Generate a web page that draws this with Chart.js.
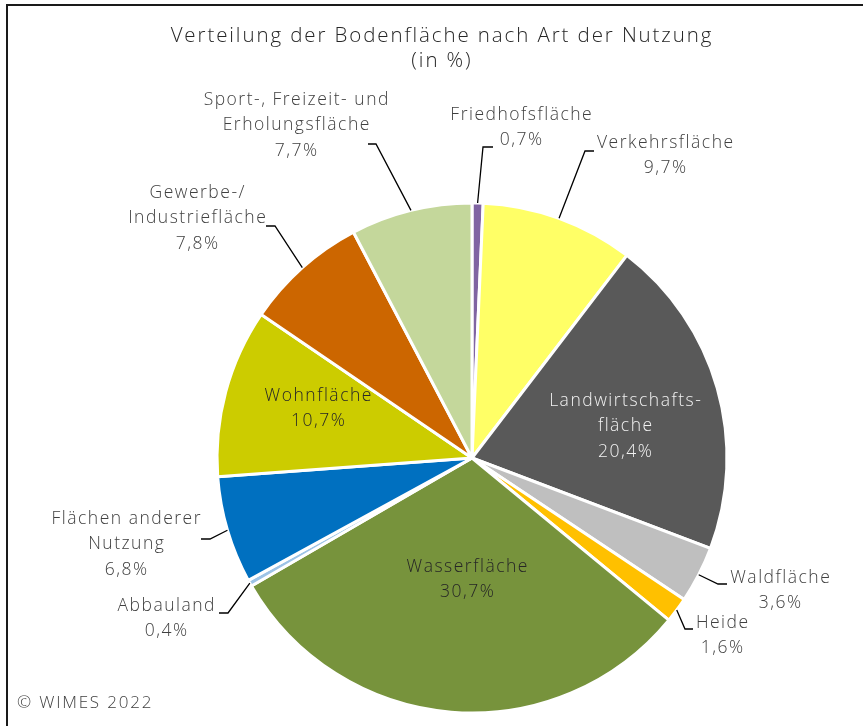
<!DOCTYPE html>
<html lang="de">
<head>
<meta charset="utf-8">
<title>Verteilung der Bodenfläche nach Art der Nutzung</title>
<script src="https://cdn.jsdelivr.net/npm/chart.js@4.4.1/dist/chart.umd.min.js"></script>
<style>
    html, body { margin: 0; padding: 0; background: #fff; overflow: hidden; }
    #wrap { position: relative; width: 863px; height: 726px; }
    #frame {
        position: absolute; left: 6px; top: 4px; width: 1000px; height: 1000px;
        border-top: 2px solid #1a1a1a; border-left: 2px solid #1a1a1a;
        pointer-events: none;
    }
</style>
</head>
<body>
<div id="wrap">
    <canvas id="landChart" width="863" height="726"></canvas>
    <div id="frame"></div>
</div>
<script>
    const categories = [
        'Friedhofsfläche',
        'Verkehrsfläche',
        'Landwirtschafts-\nfläche',
        'Waldfläche',
        'Heide',
        'Wasserfläche',
        'Abbauland',
        'Flächen anderer\nNutzung',
        'Wohnfläche',
        'Gewerbe-/\nIndustriefläche',
        'Sport-, Freizeit- und\nErholungsfläche'
    ];
    const shares = [0.7, 9.7, 20.4, 3.6, 1.6, 30.7, 0.4, 6.8, 10.7, 7.8, 7.7];
    const sliceColors = [
        '#8064A2', '#FFFF66', '#595959', '#BFBFBF', '#FFC000', '#77933C',
        '#9DC3E6', '#0070C0', '#CCCC00', '#CC6600', '#C4D79B'
    ];
    const titleLines = ['Verteilung der Bodenfläche nach Art der Nutzung', '(in %)'];
    const sourceNote = '© WIMES 2022';

    // label placement (text centre, first line y, leader elbow / end)
    const labelLayout = [
        { x: 521, y: 115, elbow: [483, 147], end: [493, 147] },
        { x: 665, y: 143, elbow: [585, 151], end: [594, 151] },
        { x: 625, y: 401, inside: true, color: '#f2f2f2' },
        { x: 780, y: 578, elbow: [718, 584], end: [727, 584] },
        { x: 722, y: 623, elbow: [685, 629], end: [693, 629] },
        { x: 467, y: 567, inside: true, color: '#262626' },
        { x: 166, y: 606, elbow: [228, 613], end: [219, 613] },
        { x: 126, y: 519, elbow: [210, 539], end: [201, 539] },
        { x: 318, y: 396, inside: true, color: '#262626' },
        { x: 197, y: 193, elbow: [275, 226], end: [266, 226] },
        { x: 296, y: 100, elbow: [376, 144], end: [368, 144] }
    ];

    const FONT = '"Open Sans", "DejaVu Sans", sans-serif';
    const fmt = v => v.toFixed(1).replace('.', ',') + '%';

    // centred text with extra tracking (the original font is very wide)
    function spacedText(ctx, text, x, y, spacing) {
        ctx.letterSpacing = spacing + 'px';
        ctx.fillText(text, x + spacing / 2, y);
        ctx.letterSpacing = '0px';
    }

    const labelPlugin = {
        id: 'pieLabels',
        afterDraw(chart) {
            const ctx = chart.ctx;
            const arcs = chart.getDatasetMeta(0).data;
            ctx.save();
            ctx.textAlign = 'center';
            ctx.textBaseline = 'middle';

            // title
            ctx.fillStyle = '#262626';
            ctx.font = '300 20.5px ' + FONT;
            spacedText(ctx, titleLines[0], 441, 36, 1.9);
            spacedText(ctx, titleLines[1], 441, 61, 1.9);

            arcs.forEach((arc, i) => {
                const lay = labelLayout[i];
                const lines = categories[i].split('\n').concat([fmt(shares[i])]);
                if (!lay.inside) {
                    const p = arc.getProps(['x', 'y', 'startAngle', 'endAngle', 'outerRadius'], true);
                    const mid = (p.startAngle + p.endAngle) / 2;
                    const sx = p.x + Math.cos(mid) * p.outerRadius;
                    const sy = p.y + Math.sin(mid) * p.outerRadius;
                    ctx.strokeStyle = '#000';
                    ctx.lineWidth = 1.3;
                    ctx.beginPath();
                    ctx.moveTo(sx, sy);
                    ctx.lineTo(lay.elbow[0], lay.elbow[1]);
                    ctx.lineTo(lay.end[0], lay.end[1]);
                    ctx.stroke();
                }
                ctx.fillStyle = lay.color || '#404040';
                ctx.font = '300 17.5px ' + FONT;
                lines.forEach((t, k) => spacedText(ctx, t, lay.x, lay.y + k * 25.5, 1.5));
            });

            ctx.textAlign = 'left';
            ctx.fillStyle = '#404040';
            ctx.font = '300 17px ' + FONT;
            ctx.letterSpacing = '1.8px';
            ctx.fillText(sourceNote, 17, 703);
            ctx.letterSpacing = '0px';
            ctx.restore();
        }
    };

    new Chart(document.getElementById('landChart').getContext('2d'), {
        type: 'pie',
        data: {
            labels: categories,
            datasets: [{
                data: shares,
                backgroundColor: sliceColors,
                borderColor: '#ffffff',
                borderWidth: 3
            }]
        },
        options: {
            responsive: false,
            animation: false,
            radius: 255,
            layout: {
                padding: { left: 218, right: 137, top: 204, bottom: 14 }
            },
            plugins: {
                legend: { display: false },
                tooltip: { enabled: false }
            }
        },
        plugins: [labelPlugin]
    });
</script>
</body>
</html>
